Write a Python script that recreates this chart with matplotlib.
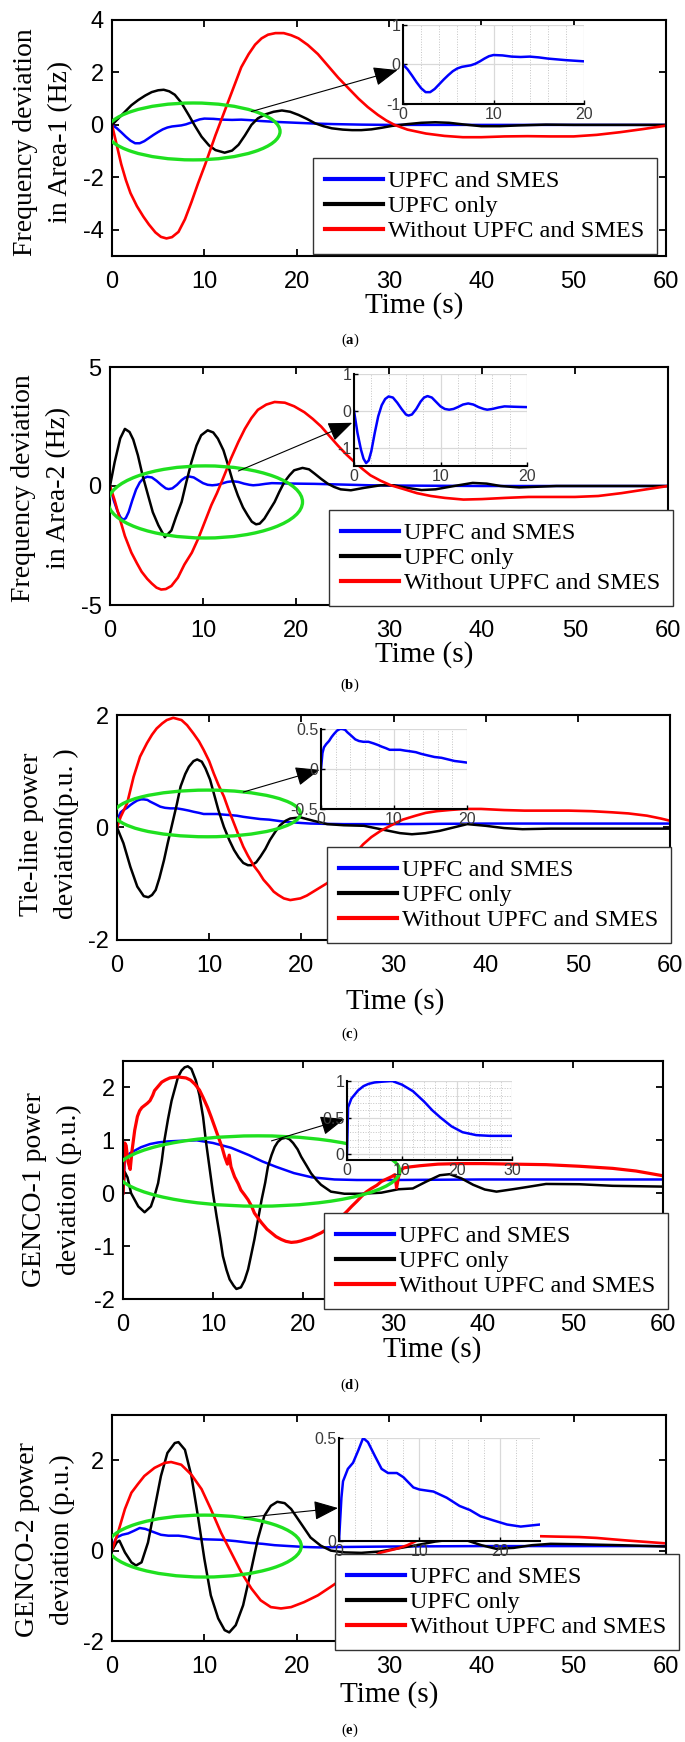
import numpy as np
import matplotlib
matplotlib.use("Agg")
import matplotlib.pyplot as plt
from matplotlib.patches import Ellipse
from matplotlib.ticker import MultipleLocator, FormatStrFormatter

################ DATA ################
# (a) frequency deviation, area 1
a_t_blue = [0, 0.5, 1, 1.5, 2, 2.5, 3, 3.5, 4, 4.5, 5, 5.5, 6, 6.5, 7, 7.5, 8, 8.5, 9, 9.5, 10, 11, 12, 13,
            14, 15, 16, 17, 18, 20, 22, 24, 27, 30, 40, 50, 60]
a_blue = [0, -0.12, -0.28, -0.45, -0.6, -0.7, -0.7, -0.62, -0.5, -0.38, -0.27, -0.17, -0.1, -0.06, -0.04,
          -0.02, 0.02, 0.08, 0.15, 0.21, 0.24, 0.23, 0.2, 0.19, 0.2, 0.18, 0.15, 0.13, 0.11, 0.08, 0.05,
          0.03, 0.01, 0, 0, 0, 0]
a_t_black = [0, 0.7, 1.4, 2.1, 2.85, 3.6, 4.3, 5, 5.6, 6.2, 6.8, 7.5, 8.3, 9, 9.7, 10.5, 11.2, 12.2, 13,
             13.7, 14.4, 15.1, 15.8, 16.6, 17.5, 18.4, 19.3, 20.2, 21.1, 22, 22.9, 23.8, 25, 26, 27, 28.1,
             29.2, 30.3, 32, 33.5, 35, 36.5, 38, 40, 42, 44, 47, 50, 55, 60]
a_black = [0, 0.25, 0.5, 0.75, 0.95, 1.12, 1.25, 1.32, 1.34, 1.28, 1.15, 0.85, 0.38, -0.05, -0.45, -0.78,
           -0.96, -1.06, -0.98, -0.76, -0.4, 0, 0.25, 0.4, 0.5, 0.55, 0.5, 0.38, 0.23, 0.06, -0.05, -0.13,
           -0.18, -0.2, -0.2, -0.17, -0.11, -0.04, 0.03, 0.08, 0.1, 0.08, 0.02, -0.05, -0.05, -0.02, 0.01,
           0, 0, 0]
a_t_red = [0, 0.5, 1, 1.5, 2, 2.7, 3.4, 4, 4.7, 5.3, 5.9, 6.5, 7.2, 7.9, 8.6, 9.3, 10.1, 10.7, 11.2, 11.9,
           12.6, 13.3, 14, 14.8, 15.5, 16.2, 16.9, 17.7, 18.6, 19.4, 20.2, 21.2, 22.3, 23.4, 24.5, 25.6,
           26.7, 27.7, 28.8, 29.7, 30.6, 32, 34, 36, 38, 40, 42.5, 45, 47.5, 50, 52.5, 55, 57.5, 60]
a_red = [0, -0.75, -1.5, -2.1, -2.6, -3.1, -3.5, -3.8, -4.1, -4.27, -4.33, -4.28, -4.08, -3.6, -2.95,
         -2.25, -1.5, -0.9, -0.4, 0.25, 0.9, 1.55, 2.2, 2.7, 3.06, 3.3, 3.44, 3.5, 3.5, 3.42, 3.3, 3.05,
         2.7, 2.25, 1.8, 1.4, 1.0, 0.68, 0.38, 0.17, 0.0, -0.18, -0.33, -0.42, -0.47, -0.47, -0.44, -0.43,
         -0.44, -0.44, -0.38, -0.28, -0.16, -0.03]

# (b) frequency deviation, area 2
b_t_blue = [0, 0.4, 0.8, 1.1, 1.4, 1.7, 2, 2.4, 2.8, 3.2, 3.6, 4, 4.5, 5, 5.5, 6, 6.3, 6.7, 7.2, 7.7, 8.1,
            8.5, 9, 9.5, 10, 10.5, 11, 11.5, 12, 12.6, 13.2, 13.8, 14.4, 15, 15.4, 16, 16.7, 17.4, 18.5,
            20, 22, 25, 28, 30, 40, 50, 60]
b_blue = [0, -0.6, -1.05, -1.3, -1.42, -1.35, -1.1, -0.6, -0.15, 0.15, 0.32, 0.39, 0.36, 0.22, 0.05, -0.1,
          -0.13, -0.1, 0.05, 0.25, 0.36, 0.4, 0.36, 0.24, 0.12, 0.05, 0.03, 0.05, 0.1, 0.17, 0.2, 0.17,
          0.1, 0.05, 0.03, 0.05, 0.09, 0.12, 0.11, 0.1, 0.09, 0.06, 0.03, 0.02, 0, 0, 0]
b_t_black = [0, 0.5, 1.1, 1.6, 2.1, 2.5, 3, 3.5, 4.1, 4.6, 5.2, 5.9, 6.6, 7.1, 7.7, 8.2, 8.75, 9.3, 9.8,
             10.5, 11.1, 11.6, 12.2, 12.7, 13.2, 13.75, 14.3, 14.8, 15.25, 15.7, 16.1, 16.6, 17.1, 17.7,
             18.2, 18.75, 19.3, 19.8, 20.7, 21.4, 22, 22.7, 23.4, 24.1, 24.8, 25.9, 27.3, 29.1, 30.5, 32,
             33.5, 35, 37, 39, 40.5, 42, 44, 46, 48, 55, 60]
b_black = [0, 1.0, 2.0, 2.4, 2.27, 1.95, 1.29, 0.45, -0.4, -1.1, -1.65, -2.15, -1.87, -1.3, -0.67, 0.15,
           1.0, 1.7, 2.13, 2.34, 2.25, 1.99, 1.5, 0.87, 0.2, -0.4, -0.9, -1.23, -1.5, -1.61, -1.58, -1.37,
           -1.05, -0.67, -0.25, 0.17, 0.45, 0.66, 0.76, 0.7, 0.52, 0.3, 0.1, -0.04, -0.14, -0.18, -0.08,
           0.03, 0.03, -0.08, -0.17, -0.14, 0.0, 0.13, 0.1, 0.0, -0.06, -0.03, 0, 0, 0]
b_t_red = [0, 0.5, 1, 1.6, 2.3, 2.9, 3.4, 4, 4.5, 5, 5.5, 6, 6.6, 7.3, 8, 8.8, 9.5, 10.2, 10.9, 11.5, 12,
           12.5, 13, 13.8, 14.5, 15.2, 15.9, 16.8, 17.7, 18.8, 19.8, 20.9, 21.8, 22.7, 23.6, 24.5, 25.4,
           26.3, 27.2, 28, 29.1, 30.2, 31.5, 33, 34.5, 36, 38, 40, 42.5, 45, 47.5, 50, 52.5, 55, 57.5, 60]
b_red = [0, -0.6, -1.3, -2.1, -2.8, -3.25, -3.6, -3.9, -4.1, -4.27, -4.35, -4.33, -4.2, -3.85, -3.3,
         -2.8, -2.2, -1.5, -0.8, -0.3, 0.17, 0.65, 1.15, 1.85, 2.4, 2.85, 3.2, 3.42, 3.53, 3.5, 3.35, 3.1,
         2.82, 2.5, 2.1, 1.7, 1.33, 1.0, 0.7, 0.45, 0.22, 0.03, -0.12, -0.3, -0.42, -0.5, -0.57, -0.55,
         -0.5, -0.46, -0.46, -0.46, -0.42, -0.3, -0.15, 0.0]

# (c) tie-line power deviation
c_t_blue = [0, 0.2, 0.4, 0.7, 1.1, 1.45, 1.8, 2.2, 2.6, 2.9, 3.3, 3.6, 4.1, 4.7, 5.2, 5.8, 6.5, 7.2, 7.8,
            8.3, 8.9, 9.4, 10.1, 10.85, 11.5, 12.3, 13, 13.7, 14.6, 15.55, 16.5, 17.4, 18.3, 19.2, 20, 21,
            22.5, 24.6, 30, 40, 50, 60]
c_blue = [0, 0.2, 0.27, 0.31, 0.35, 0.4, 0.44, 0.48, 0.5, 0.5, 0.49, 0.46, 0.42, 0.37, 0.35, 0.34, 0.34,
          0.32, 0.3, 0.28, 0.26, 0.24, 0.24, 0.24, 0.23, 0.22, 0.21, 0.19, 0.17, 0.15, 0.14, 0.12, 0.1,
          0.09, 0.08, 0.07, 0.065, 0.06, 0.06, 0.07, 0.07, 0.07]
c_t_black = [0, 0.7, 1.45, 2.2, 2.9, 3.4, 3.8, 4.2, 4.6, 5.1, 5.5, 6, 6.5, 6.9, 7.4, 7.8, 8.3, 8.7, 9.2,
             9.6, 10.1, 10.5, 11, 11.6, 12.2, 12.7, 13.2, 13.7, 14.2, 14.6, 15.1, 15.55, 16.1, 16.6, 17.2,
             17.7, 18.3, 18.8, 19.9, 21.3, 22.8, 24.6, 26.8, 28.9, 30.7, 32, 33.5, 35, 36.5, 38, 40, 42,
             44, 47, 50, 55, 60]
c_black = [0, -0.28, -0.7, -1.05, -1.22, -1.24, -1.2, -1.11, -0.9, -0.58, -0.28, 0.07, 0.42, 0.73, 0.95,
           1.08, 1.18, 1.21, 1.17, 1.05, 0.85, 0.61, 0.31, 0.01, -0.23, -0.4, -0.53, -0.63, -0.67, -0.67,
           -0.62, -0.52, -0.38, -0.22, -0.07, 0.04, 0.12, 0.16, 0.18, 0.12, 0.06, 0.04, 0.03, -0.04, -0.1,
           -0.12, -0.1, -0.06, 0.0, 0.06, 0.03, -0.01, -0.03, -0.02, -0.02, -0.02, -0.02]
c_t_red = [0, 0.4, 1.1, 1.8, 2.5, 3.25, 3.8, 4.3, 4.9, 5.4, 6.1, 7, 7.6, 8.3, 8.9, 9.4, 10, 10.5, 11, 11.6,
           12.1, 12.7, 13.2, 13.7, 14.2, 14.8, 15.4, 15.9, 16.5, 17, 17.5, 18.1, 18.8, 19.9, 20.6, 21.3,
           22, 22.8, 23.7, 24.8, 25.8, 26.7, 27.6, 28.6, 30, 31, 32.4, 33.5, 34.7, 36, 37.6, 39.5, 42,
           44.2, 46.5, 49, 51.5, 53.7, 55.5, 57.5, 59, 60]
c_red = [0, 0.19, 0.43, 0.9, 1.26, 1.5, 1.65, 1.76, 1.85, 1.91, 1.95, 1.91, 1.82, 1.67, 1.53, 1.38, 1.18,
         0.96, 0.76, 0.55, 0.32, 0.07, -0.14, -0.34, -0.5, -0.67, -0.8, -0.93, -1.04, -1.14, -1.2, -1.26,
         -1.29, -1.26, -1.21, -1.14, -1.07, -0.99, -0.85, -0.66, -0.47, -0.3, -0.17, -0.06, 0.06, 0.14,
         0.21, 0.26, 0.29, 0.31, 0.33, 0.33, 0.31, 0.3, 0.3, 0.3, 0.29, 0.27, 0.25, 0.21, 0.16, 0.12]

# (d) GENCO-1 power deviation
d_t_blue = [0, 0.2, 0.8, 2, 3, 3.9, 5, 6.3, 8.2, 10, 12, 14, 15.5, 17, 19, 21, 23.5, 26, 30, 40, 50, 60]
d_blue = [0, 0.64, 0.76, 0.87, 0.93, 0.96, 0.98, 0.99, 1.0, 0.95, 0.86, 0.72, 0.6, 0.5, 0.38, 0.3, 0.26,
          0.25, 0.25, 0.26, 0.26, 0.26]
d_t_black = [0, 0.2, 0.5, 0.9, 1.7, 2.4, 3.1, 3.5, 3.9, 4.3, 4.6, 5, 5.4, 5.8, 6.1, 6.5, 6.85, 7.2, 7.6,
             8.1, 8.5, 8.9, 9.2, 9.6, 10, 10.4, 10.8, 11.1, 11.5, 11.85, 12.3, 12.6, 13.1, 13.5, 13.9,
             14.2, 14.6, 15, 15.4, 15.8, 16.1, 16.5, 16.85, 17.2, 17.6, 18.1, 18.5, 18.9, 19.4, 19.8, 20.4,
             20.9, 21.5, 22, 23.1, 24.6, 26.5, 28.7, 30.6, 32.2, 33.7, 35.2, 36.3, 37.6, 38.9, 40.2, 41.5,
             43.3, 45, 47, 50.7, 54.4, 60]
d_black = [0, 0.4, 0.3, 0.0, -0.25, -0.36, -0.25, -0.05, 0.19, 0.6, 1.0, 1.4, 1.75, 2.0, 2.19, 2.32,
           2.38, 2.4, 2.35, 2.13, 1.85, 1.44, 1.0, 0.5, 0.0, -0.44, -0.85, -1.19, -1.45, -1.63, -1.75,
           -1.81, -1.78, -1.65, -1.44, -1.2, -0.875, -0.5, -0.125, 0.2, 0.5, 0.72, 0.875, 0.97, 1.03,
           1.05, 1.02, 0.95, 0.83, 0.69, 0.52, 0.375, 0.25, 0.16, 0.03, -0.01, -0.01, 0.01, 0.075, 0.09,
           0.22, 0.34, 0.36, 0.28, 0.16, 0.07, 0.03, 0.075, 0.12, 0.175, 0.17, 0.14, 0.125]
d_t_red = [0, 0.2, 0.35, 0.55, 0.8, 1.0, 1.3, 1.6, 1.85, 2.1, 2.4, 2.7, 3, 3.3, 3.5, 3.9, 4.3, 4.7, 5.2,
           5.6, 6.1, 6.5, 7, 7.5, 8, 8.5, 8.9, 9.4, 9.8, 10.2, 10.6, 11, 11.3, 11.6, 11.8, 12.0, 12.4,
           12.8, 13.1, 13.5, 13.9, 14.3, 14.6, 15, 15.4, 16, 16.5, 17, 17.6, 18.1, 18.7, 19.3, 19.8, 20.3,
           20.9, 21.5, 22, 22.6, 23.1, 23.7, 24.3, 24.9, 25.4, 26, 26.5, 27, 27.6, 28.2, 28.7, 29.3,
           29.8, 30.2, 30.4, 30.6, 30.8, 31.2, 32, 33, 35, 37.4, 40, 43.3, 47, 50.7, 54.4, 57, 60]
d_red = [0, 0.95, 0.9, 0.6, 0.45, 0.8, 1.19, 1.45, 1.56, 1.62, 1.66, 1.7, 1.75, 1.85, 1.94, 2.02, 2.1,
         2.14, 2.18, 2.19, 2.2, 2.19, 2.18, 2.14, 2.06, 1.95, 1.81, 1.62, 1.44, 1.25, 1.06, 0.87, 0.69,
         0.55, 0.72, 0.5, 0.31, 0.18, 0.06, -0.03, -0.125, -0.25, -0.375, -0.47, -0.56, -0.68, -0.75,
         -0.82, -0.875, -0.91, -0.93, -0.92, -0.9, -0.87, -0.84, -0.79, -0.75, -0.69, -0.625, -0.54,
         -0.44, -0.34, -0.25, -0.15, -0.06, 0.02, 0.09, 0.15, 0.22, 0.27, 0.31, 0.35, 0.1, 0.3, 0.42,
         0.48, 0.5, 0.52, 0.55, 0.56, 0.56, 0.55, 0.54, 0.51, 0.47, 0.42, 0.33]

# (e) GENCO-2 power deviation
e_t_blue = [0, 0.3, 0.5, 1.1, 1.75, 2.4, 3, 3.6, 4.5, 5.3, 6.1, 7.2, 8, 9.25, 10, 11.75, 13.4, 15, 16.3,
            17.6, 19.2, 20.9, 22.6, 25, 30, 40, 50, 60]
e_blue = [0, 0.21, 0.29, 0.35, 0.38, 0.44, 0.5, 0.48, 0.41, 0.35, 0.33, 0.33, 0.31, 0.26, 0.25, 0.24,
          0.21, 0.17, 0.15, 0.12, 0.1, 0.08, 0.07, 0.08, 0.09, 0.1, 0.1, 0.1]
e_t_black = [0, 0.5, 0.8, 1.4, 2.1, 2.6, 3.2, 3.9, 4.6, 5.3, 6, 6.8, 7.2, 7.9, 8.6, 9.3, 10, 10.7, 11.5,
             12.2, 12.7, 13.4, 14.2, 15.1, 15.8, 16.5, 17.2, 17.9, 18.7, 19.4, 20.5, 21.5, 22.6, 23.7,
             25.2, 27, 29, 31, 33, 35, 37, 38.5, 40, 41.6, 43.5, 45.5, 47.5, 50.6, 55, 60]
e_black = [0, 0.18, 0.22, -0.04, -0.26, -0.33, -0.26, 0.18, 0.92, 1.65, 2.16, 2.38, 2.4, 2.23, 1.65,
           0.77, -0.18, -0.99, -1.5, -1.76, -1.81, -1.65, -1.21, -0.4, 0.26, 0.77, 0.99, 1.08, 1.05, 0.92,
           0.59, 0.29, 0.11, 0.0, -0.04, -0.05, -0.02, 0.05, 0.12, 0.2, 0.25, 0.22, 0.12, 0.04, 0.06,
           0.12, 0.15, 0.14, 0.12, 0.09]
e_t_red = [0, 0.65, 1.4, 2.1, 2.8, 3.5, 4.6, 5.7, 6.4, 7.5, 8.6, 9.7, 10.7, 11.8, 12.9, 14, 15.1, 16.1,
           17.2, 18.3, 19.4, 20.8, 22.3, 23.7, 25, 26, 27, 28, 29, 30, 31, 32, 33, 34.5, 36, 38, 40, 43,
           46, 48, 50.6, 52.5, 54.2, 56, 58, 60]
e_red = [0, 0.4, 0.92, 1.28, 1.47, 1.65, 1.83, 1.94, 1.96, 1.9, 1.68, 1.36, 0.92, 0.4, -0.04, -0.48,
         -0.84, -1.1, -1.25, -1.28, -1.25, -1.14, -0.99, -0.8, -0.62, -0.47, -0.32, -0.18, -0.05, 0.0,
         0.05, 0.12, 0.22, 0.27, 0.3, 0.32, 0.33, 0.33, 0.32, 0.31, 0.3, 0.28, 0.25, 0.22, 0.19, 0.16]

series_names = ["UPFC and SMES", "UPFC only", "Without UPFC and SMES"]
x_ticks = [0, 10, 20, 30, 40, 50, 60]

SERIES = {
    "a": (a_t_blue, a_blue, a_t_black, a_black, a_t_red, a_red),
    "b": (b_t_blue, b_blue, b_t_black, b_black, b_t_red, b_red),
    "c": (c_t_blue, c_blue, c_t_black, c_black, c_t_red, c_red),
    "d": (d_t_blue, d_blue, d_t_black, d_black, d_t_red, d_red),
    "e": (e_t_blue, e_blue, e_t_black, e_black, e_t_red, e_red),
}

################ LAYOUT (figure pixels) ################
W, H = 685, 1742
PANELS = [
    dict(key="a", box=(112, 20, 666, 256), ylim=(-5, 4), yticks=[-4, -2, 0, 2, 4],
         ylabel="Frequency deviation\nin Area-1 (Hz)", ylab=(43, 142), xlab=(414, 306), tag=(350, 340),
         legend=(313, 158), inset=(403, 25, 584, 104), ixlim=(0, 20), iylim=(-1, 1),
         ixticks=[0, 10, 20], iyticks=[-1, 0, 1], iminor_y=None,
         ell=(8.8, -0.25, 18.8, 2.17), tail=(15.1, 0.51), tip=(-0.03, 0.43)),
    dict(key="b", box=(110, 367, 668, 605), ylim=(-5, 5), yticks=[-5, 0, 5],
         ylabel="Frequency deviation\nin Area-2 (Hz)", ylab=(41, 488), xlab=(424, 655), tag=(350, 685),
         legend=(329, 510), inset=(354, 374, 527, 466), ixlim=(0, 20), iylim=(-1.5, 1),
         ixticks=[0, 10, 20], iyticks=[-1, 0, 1], iminor_y=None,
         ell=(10.25, -0.67, 20.9, 3.03), tail=(13.8, 0.63), tip=(-0.01, 0.47)),
    dict(key="c", box=(117, 715, 670, 940), ylim=(-2, 2), yticks=[-2, 0, 2],
         ylabel="Tie-line power\ndeviation(p.u. )", ylab=(49, 834), xlab=(395, 1002), tag=(350, 1034),
         legend=(327, 847), inset=(321, 729, 467, 809), ixlim=(0, 20), iylim=(-0.5, 0.5),
         ixticks=[0, 10, 20], iyticks=[-0.5, 0, 0.5], iminor_y=None,
         ell=(9.8, 0.25, 20.2, 0.83), tail=(13.7, 0.63), tip=(-0.01, 0.49)),
    dict(key="d", box=(123, 1061, 663, 1299), ylim=(-2, 2.5), yticks=[-2, -1, 0, 1, 2],
         ylabel="GENCO-1 power\ndeviation (p.u.)", ylab=(52, 1190), xlab=(432, 1350), tag=(350, 1385),
         legend=(324, 1213), inset=(347, 1081, 512, 1160), ixlim=(0, 30), iylim=(-0.08, 1),
         ixticks=[0, 10, 20, 30], iyticks=[0, 0.5, 1], iminor_y=0.1,
         ell=(15, 0.42, 31.5, 1.33), tail=(16.5, 0.99), tip=(-0.015, 0.52)),
    dict(key="e", box=(112, 1415, 666, 1641), ylim=(-2, 3), yticks=[-2, 0, 2],
         ylabel="GENCO-2 power\ndeviation (p.u.)", ylab=(45, 1540), xlab=(389, 1695), tag=(350, 1730),
         legend=(335, 1554), inset=(339, 1438, 540, 1541), ixlim=(0, 25), iylim=(0, 0.5),
         ixticks=[0, 10, 20], iyticks=[0, 0.5], iminor_y=None,
         ell=(10, 0.1, 21, 1.37), tail=(14.3, 0.73), tip=(-0.005, 0.32)),
]

SANS = "Liberation Sans"
SERIF = "Liberation Serif"
plt.rcParams["font.family"] = SANS
plt.rcParams["axes.unicode_minus"] = False
plt.rcParams["mathtext.fontset"] = "custom"
plt.rcParams["mathtext.rm"] = SERIF
plt.rcParams["mathtext.bf"] = SERIF + ":bold"

BLUE, RED, GREEN = "#0000ff", "#ff0000", "#1fe01f"

fig = plt.figure(figsize=(W / 100, H / 100), dpi=100)


def px_axes(l, t, r, b):
    return fig.add_axes([l / W, 1 - b / H, (r - l) / W, (b - t) / H])


def fpos(x, y):
    return x / W, 1 - y / H


for p in PANELS:
    tb, vb, tk, vk, tr, vr = SERIES[p["key"]]

    # --- main axes ---
    ax = px_axes(*p["box"])
    ax.plot(tb, vb, color=BLUE, lw=1.8, label=series_names[0])
    ax.plot(tk, vk, color="k", lw=1.8, label=series_names[1])
    ax.plot(tr, vr, color=RED, lw=2.3 if p["key"] == "d" else 1.9, label=series_names[2])
    ax.set_xlim(0, 60)
    ax.set_ylim(*p["ylim"])
    ax.set_xticks(x_ticks)
    ax.set_yticks(p["yticks"])
    ax.tick_params(direction="in", top=True, right=True, length=5, width=1.3, labelsize=17)
    ax.tick_params(axis="x", pad=11)
    ax.tick_params(axis="y", pad=6)
    for s in ax.spines.values():
        s.set_linewidth(1.5)

    cx, cy, ew, eh = p["ell"]
    ax.add_patch(Ellipse((cx, cy), ew, eh, fill=False, ec=GREEN, lw=2.4, zorder=4))

    leg = ax.legend(loc="upper left", bbox_to_anchor=fpos(*p["legend"]), bbox_transform=fig.transFigure,
                    borderaxespad=0, prop={"family": SERIF, "size": 17.5}, handlelength=2.4,
                    handletextpad=0.2, labelspacing=0.12, borderpad=0.5, fancybox=False,
                    edgecolor="#333333", framealpha=1)
    leg.get_frame().set_linewidth(1.0)
    for ln in leg.get_lines():
        ln.set_linewidth(3.0)

    # --- inset (zoom of blue curve) ---
    ins = px_axes(*p["inset"])
    ins.plot(tb, vb, color=BLUE, lw=1.8)
    ins.set_xlim(*p["ixlim"])
    ins.set_ylim(*p["iylim"])
    ins.set_xticks(p["ixticks"])
    ins.set_yticks(p["iyticks"])
    ins.yaxis.set_major_formatter(FormatStrFormatter("%g"))
    ins.xaxis.set_minor_locator(MultipleLocator(2))
    if p["iminor_y"]:
        ins.yaxis.set_minor_locator(MultipleLocator(p["iminor_y"]))
        ins.grid(True, which="minor", axis="y", color="#c4c4c4", lw=0.7, ls=":")
    ins.grid(True, which="minor", axis="x", color="#c4c4c4", lw=0.7, ls=":")
    ins.grid(True, which="major", color="#d9d9d9", lw=0.9, ls="-")
    ins.set_axisbelow(True)
    ins.tick_params(which="major", direction="in", length=3, width=1, labelsize=11.5,
                    labelcolor="#3a3a3a", pad=2)
    ins.tick_params(which="minor", length=0)
    ins.spines["top"].set_visible(False)
    ins.spines["right"].set_visible(False)
    ins.spines["left"].set_linewidth(1.5)
    ins.spines["bottom"].set_linewidth(1.5)

    ax.annotate("", xy=p["tip"], xycoords=ins.transAxes, xytext=p["tail"], textcoords="data",
                arrowprops=dict(arrowstyle="-|>,head_length=1.5,head_width=0.6", color="k",
                                lw=0.8, shrinkA=0, shrinkB=0), zorder=6)

    # --- labels ---
    fig.text(*fpos(*p["ylab"]), p["ylabel"], rotation=90, ha="center", va="center",
             multialignment="center", family=SERIF, fontsize=20, linespacing=1.5)
    fig.text(*fpos(*p["xlab"]), "Time (s)", ha="center", va="center", family=SERIF, fontsize=21)
    fig.text(*fpos(*p["tag"]), r"($\mathbf{%s}$)" % p["key"], ha="center", va="center",
             family=SERIF, fontsize=10.5)

fig.savefig("out.png", dpi=100)
